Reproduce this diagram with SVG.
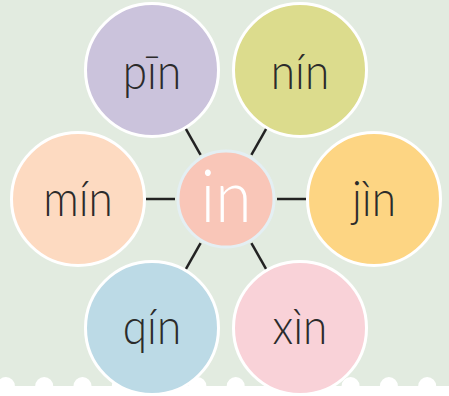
<svg xmlns="http://www.w3.org/2000/svg" width="449" height="396" viewBox="0 0 449 396">
<style>
.bub{stroke:#ffffff;stroke-width:3}
.lbl{font-family:Lato,"Open Sans","Liberation Sans",sans-serif;font-weight:300;font-size:49px;fill:#2b2b2b;text-anchor:middle}
.ctr{font-family:Lato,"Open Sans","Liberation Sans",sans-serif;font-weight:300;font-size:72px;fill:#ffffff;text-anchor:middle}
.con line{stroke:#222222;stroke-width:2.5;stroke-linecap:butt}
</style>
<rect width="449" height="396" fill="#e2ebe0"/>
<g id="band" fill="#ffffff">
<rect x="0" y="386" width="449" height="10"/>
<circle cx="5.9" cy="386" r="9"/><circle cx="44.2" cy="386" r="9"/><circle cx="82.5" cy="386" r="9"/><circle cx="120.8" cy="386" r="9"/><circle cx="159.1" cy="386" r="9"/><circle cx="197.4" cy="386" r="9"/><circle cx="235.7" cy="386" r="9"/><circle cx="274" cy="386" r="9"/><circle cx="312.3" cy="386" r="9"/><circle cx="350.6" cy="386" r="9"/><circle cx="388.9" cy="386" r="9"/><circle cx="427.2" cy="386" r="9"/>
</g>
<g id="connectors" class="con">
<line x1="200.6" y1="154.8" x2="185.7" y2="128.7"/>
<line x1="251.4" y1="154.8" x2="266.3" y2="128.7"/>
<line x1="175" y1="199" x2="146" y2="199"/>
<line x1="277" y1="199" x2="306" y2="199"/>
<line x1="200.6" y1="243.2" x2="185.7" y2="269.3"/>
<line x1="251.4" y1="243.2" x2="266.3" y2="269.3"/>
</g>
<g id="pin"><circle class="bub" cx="152" cy="70" r="66.5" fill="#cbc3dc"/><text class="lbl" transform="translate(152 89) scale(0.9 1)">pīn</text></g>
<g id="nin"><circle class="bub" cx="300" cy="70" r="66.5" fill="#dcdc8d"/><text class="lbl" transform="translate(300 89) scale(0.9 1)">nín</text></g>
<g id="min"><circle class="bub" cx="78" cy="199" r="66.5" fill="#fddac1"/><text class="lbl" transform="translate(78 216) scale(0.9 1)">mín</text></g>
<g id="jin"><circle class="bub" cx="374" cy="199" r="66.5" fill="#fdd583"/><text class="lbl" transform="translate(374 216) scale(0.9 1)">jìn</text></g>
<g id="qin"><circle class="bub" cx="152" cy="328" r="66.5" fill="#bcdae6"/><text class="lbl" transform="translate(152 344) scale(0.9 1)">qín</text></g>
<g id="xin"><circle class="bub" cx="300" cy="328" r="66.5" fill="#f9d2d8"/><text class="lbl" transform="translate(300 344) scale(0.9 1)">xìn</text></g>
<g id="center"><circle cx="226" cy="199" r="48" fill="#f9c6b8" stroke="#e4eff3" stroke-width="3"/><text class="ctr" transform="translate(226 222) scale(0.92 1)">in</text></g>
</svg>
